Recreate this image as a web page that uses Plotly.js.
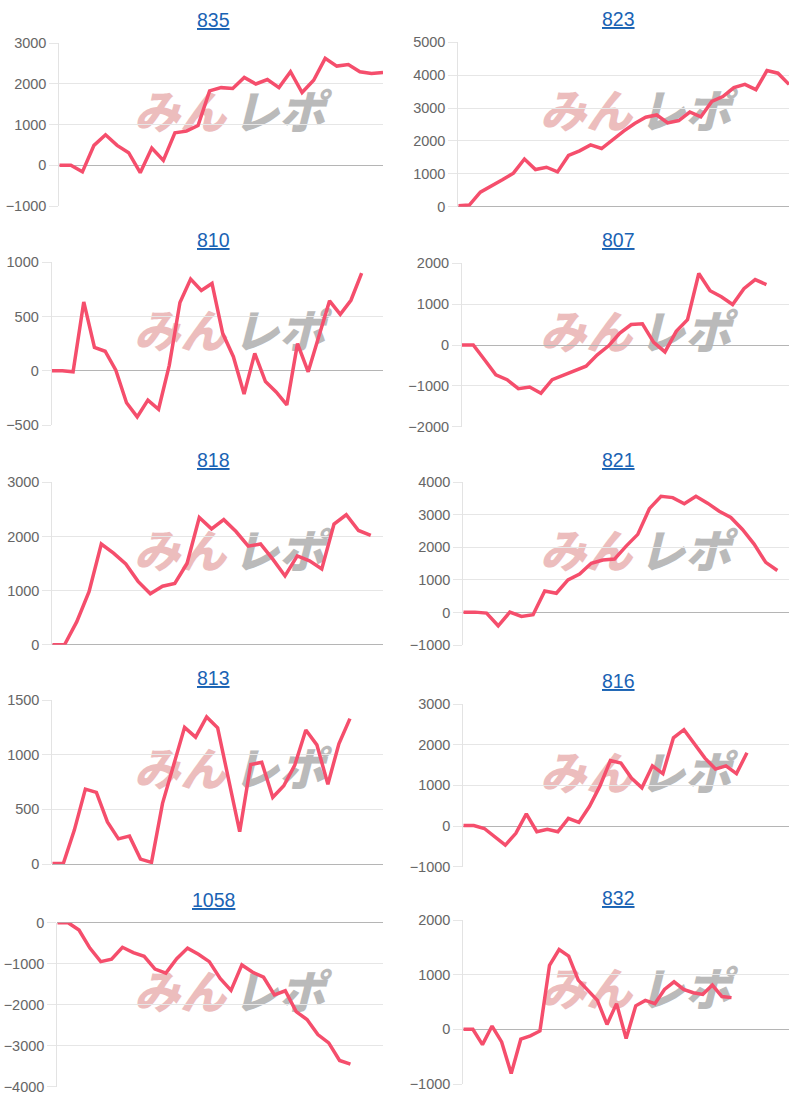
<!DOCTYPE html>
<html>
<head>
<meta charset="utf-8">
<script src="https://cdn.plot.ly/plotly-3.0.1.min.js"></script>
<style>
  html, body { margin: 0; padding: 0; background: #ffffff; }
  #chart { width: 812px; height: 1100px; }
</style>
</head>
<body>
<div id="chart"></div>
<script>
// ---------- data ----------
const titles = ['835', '823', '810', '807', '818', '821', '813', '816', '1058', '832'];

const v835 = [0, 0, -160, 490, 750, 490, 310, -180, 425, 120, 800, 840, 980, 1830, 1910, 1890, 2160, 2000, 2110, 1910, 2300, 1790, 2090, 2630, 2440, 2480, 2300, 2260, 2280];
const v823 = [30, 50, 440, 620, 820, 1020, 1450, 1130, 1200, 1060, 1560, 1700, 1880, 1770, 2050, 2300, 2530, 2720, 2790, 2550, 2620, 2880, 2730, 3200, 3350, 3620, 3720, 3560, 4140, 4060, 3720];
const v810 = [0, 0, -10, 635, 215, 180, 5, -295, -425, -270, -355, 50, 630, 845, 740, 805, 345, 130, -215, 160, -100, -195, -315, 250, -10, 320, 645, 520, 650, 900];
const v807 = [0, 0, -360, -730, -850, -1070, -1030, -1180, -850, -740, -620, -520, -240, -20, 290, 500, 520, 65, -170, 335, 620, 1750, 1330, 1180, 990, 1380, 1600, 1480];
const v818 = [0, 0, 425, 980, 1860, 1690, 1490, 1170, 940, 1080, 1130, 1500, 2350, 2140, 2310, 2090, 1820, 1860, 1580, 1270, 1640, 1550, 1400, 2230, 2400, 2110, 2020];
const v821 = [10, 10, -20, -410, 10, -120, -70, 660, 590, 1000, 1180, 1510, 1610, 1640, 2040, 2400, 3190, 3570, 3530, 3340, 3570, 3360, 3110, 2920, 2550, 2100, 1540, 1290];
const v813 = [5, 5, 310, 685, 655, 385, 230, 255, 45, 15, 555, 890, 1250, 1160, 1345, 1245, 760, 295, 910, 930, 610, 715, 905, 1225, 1090, 730, 1100, 1330];
const v816 = [10, 10, -60, -260, -470, -180, 300, -140, -80, -140, 190, 90, 480, 980, 1610, 1550, 1180, 940, 1480, 1290, 2170, 2370, 2010, 1670, 1400, 1480, 1290, 1800];
const v1058 = [0, 0, -180, -620, -950, -890, -600, -730, -820, -1130, -1230, -880, -620, -770, -950, -1360, -1650, -1030, -1210, -1330, -1760, -1660, -2170, -2360, -2730, -2930, -3360, -3450];
const v832 = [0, 0, -280, 60, -230, -810, -180, -120, -30, 1170, 1460, 1340, 900, 710, 530, 90, 470, -170, 430, 530, 470, 730, 870, 730, 670, 640, 810, 600, 580];

const seriesList = [v835, v823, v810, v807, v818, v821, v813, v816, v1058, v832];
// number of x slots on each chart's axis
const slotCounts = [29, 31, 32, 30, 28, 29, 31, 32, 31, 35];
// y-axis tick ranges
const yMins  = [-1000, 0, -500, -2000, 0, -1000, 0, -1000, -4000, -1000];
const yMaxs  = [3000, 5000, 1000, 2000, 3000, 4000, 1500, 3000, 0, 2000];
const ySteps = [1000, 1000, 500, 1000, 1000, 1000, 500, 1000, 1000, 1000];

// ---------- layout geometry (pixels) ----------
const W = 812, H = 1100;
const lefts   = [59.3, 458.3, 51.7, 462, 52.3, 463.3, 52.3, 463.3, 57.3, 463.3];
const rights  = [383, 789, 383, 789, 383, 789, 383, 789, 383, 789];
const tops    = [43.3, 42.3, 262.3, 263.3, 482.3, 482.3, 700, 704, 922.7, 920];
const bottoms = [206, 206.7, 425, 426.7, 644.7, 645, 864, 866.7, 1086.7, 1084];
const titleX  = [213, 618, 213, 618, 213, 618, 213, 618, 213, 618];
const titleY  = [19.7, 18.8, 239.7, 240.3, 459.7, 459.7, 678, 681, 900.3, 897.8];

const LINE_COLOR = 'rgb(245,78,108)';
const TICK_FONT = { family: 'Liberation Sans, Arial, sans-serif', size: 14.5, color: '#666666' };

const traces = [];
const layout = {
  width: W, height: H,
  margin: { l: 0, r: 0, t: 0, b: 0 },
  paper_bgcolor: '#ffffff',
  plot_bgcolor: 'rgba(0,0,0,0)',
  showlegend: false,
  annotations: [],
  shapes: []
};

const px = x => x / W;
const py = y => 1 - y / H;

seriesList.forEach((vals, i) => {
  const n = i === 0 ? '' : String(i + 1);
  const xName = 'xaxis' + n, yName = 'yaxis' + n;
  traces.push({
    type: 'scatter', mode: 'lines',
    x: vals.map((_, k) => k),
    y: vals,
    xaxis: 'x' + n, yaxis: 'y' + n,
    line: { color: LINE_COLOR, width: 3.5, shape: 'linear' },
    hoverinfo: 'skip'
  });
  layout[xName] = {
    domain: [px(lefts[i]), px(rights[i])],
    range: [0, slotCounts[i] - 1],
    showgrid: false, zeroline: false, showline: false,
    showticklabels: false, ticks: '', fixedrange: true,
    anchor: 'y' + n
  };
  layout[yName] = {
    domain: [py(bottoms[i]), py(tops[i])],
    range: [yMins[i], yMaxs[i]],
    tickmode: 'linear', tick0: 0, dtick: ySteps[i],
    showgrid: true, gridcolor: '#e6e6e6', gridwidth: 1,
    zeroline: true, zerolinecolor: '#b5b5b5', zerolinewidth: 1,
    showline: true, linecolor: '#e3e3e3', linewidth: 1,
    ticks: 'outside', ticklen: 9, tickcolor: '#e6e6e6', tickwidth: 1,
    tickfont: TICK_FONT, fixedrange: true,
    anchor: 'x' + n
  };

  // title (link style)
  layout.annotations.push({
    xref: 'paper', yref: 'paper',
    x: px(titleX[i]), y: py(titleY[i]),
    xanchor: 'center', yanchor: 'middle',
    text: titles[i], showarrow: false,
    font: { family: 'Liberation Sans, Arial, sans-serif', size: 19.5, color: '#1a63b4', lineposition: 'under' }
  });

  // watermark logo (text, drawn below the line)
  const cy = tops[i] + 73;
  const pinkCx = rights[i] - 203;
  const grayCx = rights[i] - 104;
  layout.shapes.push({
    type: 'rect', xref: 'paper', yref: 'paper', layer: 'below',
    x0: px(pinkCx - 60), x1: px(pinkCx + 60), y0: py(cy + 25), y1: py(cy - 25),
    line: { width: 0 }, fillcolor: 'rgba(0,0,0,0)',
    label: { text: 'みん', textposition: 'middle center',
      font: { family: 'Noto Sans CJK JP, sans-serif', size: 46, color: '#ecbdbd', weight: 900, style: 'italic' } }
  });
  layout.shapes.push({
    type: 'rect', xref: 'paper', yref: 'paper', layer: 'below',
    x0: px(grayCx - 60), x1: px(grayCx + 60), y0: py(cy + 25), y1: py(cy - 25),
    line: { width: 0 }, fillcolor: 'rgba(0,0,0,0)',
    label: { text: 'レポ', textposition: 'middle center',
      font: { family: 'Noto Sans CJK JP, sans-serif', size: 46, color: '#bababa', weight: 900, style: 'italic' } }
  });
});

Plotly.newPlot('chart', traces, layout, { displayModeBar: false, staticPlot: true });
</script>
</body>
</html>
